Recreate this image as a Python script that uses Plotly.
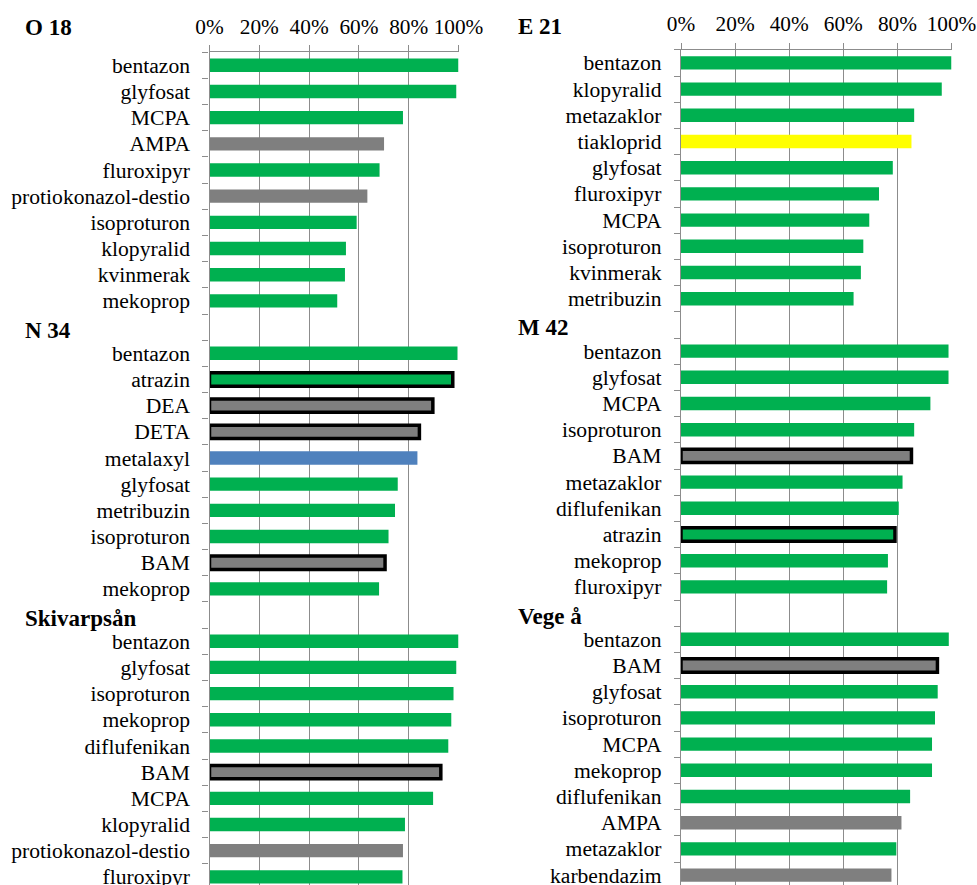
import plotly.graph_objects as go

W, H = 977, 885

# ---------------- data ----------------
# type codes: H = herbicid (green), N = nedbrytningsprodukt (gray),
#             F = fungicid (blue), I = insekticid (yellow)
o18_names = ["bentazon", "glyfosat", "MCPA", "AMPA", "fluroxipyr",
             "protiokonazol-destio", "isoproturon", "klopyralid", "kvinmerak", "mekoprop"]
o18_values = [100, 99.1, 77.7, 70.1, 68.3, 63.4, 59.1, 54.8, 54.4, 51.3]
o18_types = ["H", "H", "H", "N", "H", "N", "H", "H", "H", "H"]

n34_names = ["bentazon", "atrazin", "DEA", "DETA", "metalaxyl", "glyfosat",
             "metribuzin", "isoproturon", "BAM", "mekoprop"]
n34_values = [99.6, 97.7, 89.7, 84.3, 83.5, 75.6, 74.5, 71.9, 70.5, 68.1]
n34_types = ["H", "H", "N", "N", "F", "H", "H", "H", "N", "H"]

ski_names = ["bentazon", "glyfosat", "isoproturon", "mekoprop", "diflufenikan",
             "BAM", "MCPA", "klopyralid", "protiokonazol-destio", "fluroxipyr"]
ski_values = [100, 99.1, 98.0, 97.1, 95.9, 92.9, 89.8, 78.5, 77.7, 77.5]
ski_types = ["H", "H", "H", "H", "H", "N", "H", "H", "N", "H"]

e21_names = ["bentazon", "klopyralid", "metazaklor", "tiakloprid", "glyfosat",
             "fluroxipyr", "MCPA", "isoproturon", "kvinmerak", "metribuzin"]
e21_values = [100, 96.4, 86.2, 85.2, 78.3, 73.2, 69.6, 67.4, 66.5, 63.8]
e21_types = ["H", "H", "H", "I", "H", "H", "H", "H", "H", "H"]

m42_names = ["bentazon", "glyfosat", "MCPA", "isoproturon", "BAM", "metazaklor",
             "diflufenikan", "atrazin", "mekoprop", "fluroxipyr"]
m42_values = [98.9, 98.9, 92.2, 86.2, 85.2, 81.9, 80.5, 79.1, 76.5, 76.2]
m42_types = ["H", "H", "H", "H", "N", "H", "H", "H", "H", "H"]

veg_names = ["bentazon", "BAM", "glyfosat", "isoproturon", "MCPA", "mekoprop",
             "diflufenikan", "AMPA", "metazaklor", "karbendazim"]
veg_values = [99.0, 94.8, 94.9, 93.9, 92.8, 92.8, 84.7, 81.5, 79.6, 77.8]
veg_types = ["H", "N", "H", "H", "H", "H", "H", "N", "H", "N"]

outlined_substances = ["atrazin", "DEA", "DETA", "BAM"]

x_ticks = [0, 20, 40, 60, 80, 100]

left_sections = [("O 18", o18_names, o18_values, o18_types),
                 ("N 34", n34_names, n34_values, n34_types),
                 ("Skivarpsån", ski_names, ski_values, ski_types)]
right_sections = [("E 21", e21_names, e21_values, e21_types),
                  ("M 42", m42_names, m42_values, m42_types),
                  ("Vege å", veg_names, veg_values, veg_types)]

# ---------------- styles ----------------
TYPE_COLORS = {"H": "#00B050", "N": "#7F7F7F", "F": "#4F81BD", "I": "#FFFF00"}
GRID = "#8C8C8C"
FONT = "Liberation Serif, Times New Roman, serif"


def build(sections):
    ys, xs, names, colors, lw = [], [], [], [], []
    headers = []
    row = 0
    for si, (title, nm, vals, tps) in enumerate(sections):
        if si > 0:
            headers.append((title, row))
            row += 1
        else:
            headers.append((title, None))
        for n, v, t in zip(nm, vals, tps):
            ys.append(row)
            xs.append(v)
            names.append(n)
            colors.append(TYPE_COLORS[t])
            lw.append(3.5 if n in outlined_substances else 0)
            row += 1
    return ys, xs, names, colors, lw, headers, row


fig = go.Figure()

panels = [
    dict(sections=left_sections, xa="x", ya="y", xdom=(209.5, 458.5), top=52.2, rowh=26.18,
         hx=23, htop=27.5),
    dict(sections=right_sections, xa="x2", ya="y2", xdom=(681, 951.5), top=49.8, rowh=26.2,
         hx=516, htop=26.5),
]

annotations = []
for i, p in enumerate(panels):
    ys, xs, names, colors, lw, headers, nrows = build(p["sections"])
    fig.add_trace(go.Bar(
        x=xs, y=ys, orientation="h", width=0.51,
        marker=dict(color=colors, line=dict(color="black", width=lw)),
        xaxis=p["xa"], yaxis=p["ya"], showlegend=False, hoverinfo="x+text",
        hovertext=names,
    ))
    suffix = "" if i == 0 else "2"
    bottom_row = -0.5 + (H - p["top"]) / p["rowh"]
    fig.layout["xaxis" + suffix] = dict(
        domain=[p["xdom"][0] / W, p["xdom"][1] / W],
        range=[0, 100], side="top", anchor=p["ya"],
        tickvals=x_ticks, ticktext=[f"{t}%" for t in x_ticks],
        showgrid=True, gridcolor=GRID, gridwidth=1.3,
        showline=True, linecolor=GRID, linewidth=1.3,
        ticks="outside", ticklen=6, tickcolor=GRID, tickwidth=1.3,
        ticklabelstandoff=3, ticklabeloverflow="allow",
        tickfont=dict(family=FONT, size=21.3, color="black"),
        zeroline=False, fixedrange=True,
    )
    fig.layout["yaxis" + suffix] = dict(
        domain=[0, 1 - p["top"] / H],
        range=[bottom_row, -0.5], anchor=p["xa"],
        tickvals=ys, ticktext=names, ticks="",
        ticklabelstandoff=14, ticklabeloverflow="allow",
        minor=dict(ticks="outside", ticklen=6, tickcolor=GRID, tickwidth=1.3,
                   tickmode="array", tickvals=[k + 0.5 for k in range(-1, nrows)],
                   showgrid=False),
        showgrid=False, showline=True, linecolor=GRID, linewidth=1.3,
        tickfont=dict(family=FONT, size=21.6, color="black"),
        zeroline=False, fixedrange=True,
    )
    for title, r in headers:
        if r is None:
            hdr = dict(yref="paper", y=1 - p["htop"] / H, yshift=0)
        else:
            hdr = dict(yref=p["ya"], y=r, yshift=-3)
        annotations.append(dict(
            text=f"<b>{title}</b>", xref="paper", x=p["hx"] / W, xanchor="left",
            yanchor="middle", showarrow=False,
            font=dict(family=FONT, size=23, color="black"), **hdr,
        ))

fig.update_layout(
    width=W, height=H,
    margin=dict(l=0, r=0, t=0, b=0, autoexpand=False),
    paper_bgcolor="white", plot_bgcolor="white",
    bargap=0.49, annotations=annotations,
)

fig.write_html(
    "out.html",
    config={"displayModeBar": False},
    post_script="document.body.style.margin='0';document.body.style.overflow='hidden';",
)
